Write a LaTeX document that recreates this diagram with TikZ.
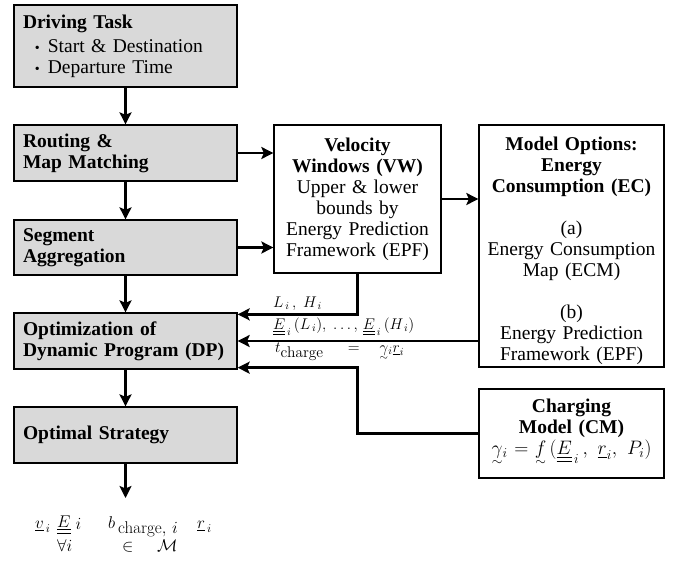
\RequirePackage{fix-cm}
\documentclass[tikz,border=0pt]{standalone}
\usepackage{amsmath}
\usepackage[no-math]{fontspec}
\setmainfont{Liberation Serif}
\usetikzlibrary{arrows.meta,calc}
\definecolor{boxgray}{RGB}{217,217,217}
\newcommand\mainsz{\fontsize{19.5}{21}\selectfont}
\newcommand\labsz{\fontsize{15.5}{17}\selectfont}
\newcommand\ressz{\fontsize{17}{19}\selectfont}
\newcommand\bulletsym{\hspace*{12pt}{\fontsize{14}{14}\selectfont\textbullet}\hspace*{8pt}}
\newcommand\utl[1]{\smash[b]{\mathord{\ooalign{$#1$\cr\hidewidth\raisebox{-1.25ex}{$\scriptstyle\sim$}\hidewidth\cr}}}}
\newcommand\dul[1]{\underline{\underline{#1}}}
\begin{document}
\begin{tikzpicture}[x=1pt,y=-1pt,
  lbox/.style={draw, line width=1.3pt, fill=boxgray, minimum width=223pt, text width=205pt, align=left, inner sep=0pt, font=\mainsz\bfseries},
  wbox/.style={draw, line width=1.3pt, fill=white, minimum width=185pt, inner sep=0pt, align=center, font=\mainsz},
  arr/.style={line width=2.8pt, -{Stealth[length=12pt,width=12pt,inset=2.5pt]}},
  lab/.style={inner sep=0pt, anchor=base west, font=\labsz},
  res/.style={inner sep=0pt, anchor=base west, font=\ressz}]
\useasboundingbox (0,0) rectangle (676,565);
% left column
\node[lbox, minimum height=82pt] (drive) at (125.5,46) {Driving Task\\[3pt]\mdseries\bulletsym Start \& Destination\\\mdseries\bulletsym Departure Time};
\node[lbox, minimum height=56pt] (route) at (125.5,153) {Routing \&\\Map Matching};
\node[lbox, minimum height=55pt] (seg) at (125.5,247.5) {Segment\\Aggregation};
\node[lbox, minimum height=56pt] (opt) at (125.5,341) {Optimization of\\Dynamic Program (DP)};
\node[lbox, minimum height=56pt] (strat) at (125.5,435) {Optimal Strategy};
\coordinate (out) at (125.5,498);
% right boxes
\node[wbox, minimum width=167pt, minimum height=148pt, text width=160pt] (vw) at (357.5,199)
  {\textbf{Velocity}\\\textbf{Windows (VW)}\\Upper \& lower\\bounds by\\Energy Prediction\\Framework (EPF)};
\node[wbox, minimum height=242pt, text width=178pt] (ec) at (571.5,246)
  {\rule{0pt}{24pt}\textbf{Model Options:}\\\textbf{Energy}\\\textbf{Consumption (EC)}\\[21pt](a)\\Energy Consumption\\Map (ECM)\\[21pt](b)\\Energy Prediction\\Framework (EPF)};
\node[wbox, minimum height=89pt, text width=178pt] (cm) at (571.5,433.5)
  {\textbf{Charging}\\\textbf{Model (CM)}\\$\utl{\gamma}_i = \utl{f}\,(\dul{E}_{\,i}\,,\;\underline{r}_i,\;P_i)\rule[-14pt]{0pt}{1pt}$};
% arrows
\draw[arr] (drive.south) -- (route.north);
\draw[arr] (route.south) -- (seg.north);
\draw[arr] (seg.south) -- (opt.north);
\draw[arr] (opt.south) -- (strat.north);
\draw[arr] (strat.south) -- (out);
\draw[arr] (route.east) -- (route.east -| vw.west);
\draw[arr] (seg.east) -- (seg.east -| vw.west);
\draw[arr] (vw.east) -- (vw.east -| ec.west);
\draw[arr] (vw.south) |- ([yshift=-2pt]opt.north east);
\draw[arr] (opt.east -| ec.west) -- (opt.east);
\draw[arr] (cm.west) -| ([yshift=2pt]opt.south east -| vw.south) -- ([yshift=2pt]opt.south east);
% labels
\node[lab] (l1) at (273,307) {$L_{\,i}\,,\;H_{\,i}$};
\node[lab] (l2) at (273,329) {$\dul{E}_{\,i}\,(L_{\,i}),\;\ldots,\,\dul{E}_{\,i}\,(H_{\,i})$};
\node[lab] (l3) at (275,352) {$t_{\textstyle\mathrm{charge}}\hspace{24pt}{=}\hspace{20pt}\utl{\gamma}_i\underline{r}_i$};
% result
\node[res] (r1) at (35,528) {$\underline{v}_{\,i}$};
\node[res] (r2) at (57,527) {$\dul{E}\hspace{5pt}\raisebox{-2pt}{$i$}$};
\node[res] (r3) at (108,528) {$b_{\textstyle\,\mathrm{charge},\,i}$};
\node[res] (r4) at (197,528) {$\underline{r}_{\,i}$};
\node[res] (r5) at (57,551) {$\forall i$};
\node[res] (r6) at (122,551) {$\in$};
\node[res] (r7) at (157,551) {$\mathcal{M}$};
\end{tikzpicture}
\end{document}
